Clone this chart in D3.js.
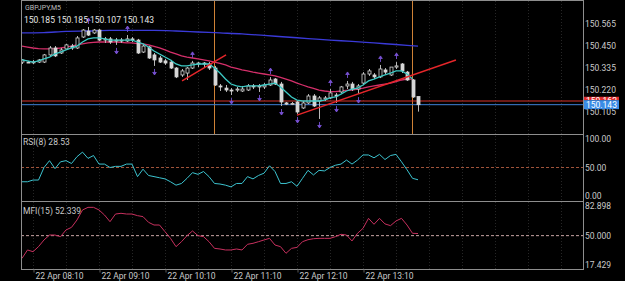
<!DOCTYPE html>
<html>
<head>
<meta charset="utf-8">
<script src="https://cdn.jsdelivr.net/npm/d3@7"></script>
<style>
body { margin: 0; background: #000; }
svg { display: block; }
</style>
</head>
<body>
<div id="canvas"></div>
<script>
// dimensions
const width = 625;
const height = 281;
const left = 21;
const right = 583;
const mainBottom = 134;
const rsiBottom = 201;
const mfiBottom = 269;

// ---- data (GBPJPY M5, bars from 22 Apr 08:00) ----
const symbol = "GBPJPY,M5";
const lastOHLC = "150.185 150.185 150.107 150.143";

const open = [150.364,150.364,150.362,150.364,150.364,150.401,150.437,150.411,150.432,150.447,
  150.437,150.494,150.525,150.515,150.530,150.478,150.484,150.473,150.478,150.473,
  150.484,150.478,150.416,150.442,150.401,150.385,150.370,150.364,150.333,150.297,
  150.307,150.333,150.354,150.359,150.354,150.333,150.240,150.229,150.219,150.219,
  150.214,150.219,150.240,150.235,150.235,150.245,150.276,150.250,150.152,150.146,
  150.157,150.126,150.152,150.188,150.162,150.172,150.178,150.193,150.209,150.240,
  150.250,150.224,150.255,150.302,150.297,150.287,150.323,150.297,150.338,150.354,
  150.312,150.271,150.185];
const high = [150.380,150.370,150.375,150.380,150.406,150.447,150.447,150.437,150.458,150.458,
  150.499,150.535,150.546,150.535,150.535,150.494,150.494,150.489,150.489,150.504,
  150.494,150.484,150.458,150.447,150.411,150.396,150.380,150.375,150.338,150.328,
  150.338,150.370,150.364,150.364,150.364,150.344,150.250,150.245,150.229,150.235,
  150.240,150.250,150.250,150.250,150.255,150.286,150.281,150.261,150.157,150.157,
  150.162,150.162,150.198,150.198,150.188,150.188,150.224,150.204,150.240,150.266,
  150.261,150.250,150.312,150.328,150.307,150.349,150.333,150.338,150.364,150.359,
  150.318,150.276,150.185];
const low = [150.354,150.359,150.354,150.359,150.359,150.396,150.390,150.406,150.427,150.427,
  150.432,150.489,150.499,150.510,150.473,150.463,150.458,150.453,150.463,150.468,
  150.468,150.406,150.411,150.380,150.344,150.359,150.349,150.328,150.281,150.287,
  150.271,150.328,150.338,150.338,150.323,150.240,150.214,150.209,150.193,150.209,
  150.209,150.214,150.224,150.209,150.224,150.240,150.245,150.136,150.141,150.141,
  150.095,150.121,150.146,150.131,150.069,150.162,150.172,150.152,150.204,150.224,
  150.214,150.198,150.250,150.292,150.276,150.281,150.302,150.292,150.328,150.307,
  150.266,150.178,150.107];
const close = [150.375,150.362,150.365,150.375,150.401,150.437,150.396,150.427,150.453,150.437,
  150.489,150.530,150.504,150.530,150.478,150.484,150.468,150.478,150.473,150.484,
  150.478,150.411,150.447,150.385,150.375,150.364,150.359,150.333,150.287,150.318,
  150.333,150.359,150.359,150.354,150.333,150.245,150.235,150.219,150.214,150.224,
  150.224,150.240,150.235,150.240,150.245,150.271,150.250,150.157,150.146,150.149,
  150.105,150.152,150.188,150.136,150.178,150.178,150.204,150.188,150.235,150.250,
  150.224,150.240,150.302,150.318,150.287,150.328,150.312,150.338,150.344,150.318,
  150.271,150.183,150.143];

// moving averages
const fastMa = [150.375,150.370,150.364,150.370,150.380,150.390,150.406,150.416,150.427,150.437,
  150.447,150.468,150.484,150.489,150.489,150.484,150.478,150.478,150.478,150.478,
  150.478,150.468,150.458,150.442,150.421,150.406,150.390,150.375,150.354,150.344,
  150.344,150.349,150.354,150.354,150.354,150.333,150.307,150.276,150.250,150.240,
  150.235,150.240,150.240,150.240,150.245,150.250,150.255,150.235,150.209,150.183,
  150.167,150.162,150.162,150.162,150.162,150.167,150.178,150.183,150.198,150.214,
  150.224,150.229,150.245,150.266,150.276,150.287,150.297,150.307,150.318,150.318,
  150.302,150.276];
const midMa = [150.447,150.442,150.437,150.434,150.432,150.432,150.434,150.437,150.442,150.447,
  150.453,150.458,150.463,150.466,150.468,150.468,150.468,150.468,150.466,150.463,
  150.463,150.460,150.458,150.453,150.445,150.437,150.427,150.416,150.406,150.396,
  150.390,150.385,150.380,150.375,150.370,150.364,150.357,150.349,150.338,150.331,
  150.323,150.318,150.312,150.307,150.302,150.297,150.292,150.284,150.276,150.266,
  150.255,150.245,150.235,150.227,150.219,150.214,150.211,150.211,150.214,150.217,
  150.219,150.224,150.229,150.235,150.240,150.245,150.250,150.255,150.263,150.271,
  150.276,150.276];
const slowMaBars = [0, 4, 8, 12, 16, 20, 24, 28, 32, 36, 40, 44, 48, 52, 56, 60, 64, 68, 72];
const slowMa = [150.515,150.517,150.523,150.525,150.528,150.528,150.528,150.525,150.520,150.515,
  150.510,150.502,150.494,150.486,150.478,150.471,150.463,150.455,150.447];

// fractal arrows (bar index)
const fractalUp = [12, 19, 31, 45, 56, 59, 65, 68];
const fractalDown = [17, 24, 38, 43, 47, 50, 54, 57, 61];

// drawn objects: trend lines [bar, price], vertical lines (bar)
const trendLines = [
  [[29.1, 150.266], [37.1, 150.401]],
  [[50.0, 150.089], [78.9, 150.375]]
];
const vLines = [35, 71];
const askPrice = 150.162;
const bidPrice = 150.143;

// indicators
const rsi = [25,25,28,28,50,62,48,60,62,57,
  69,77,66,71,56,56,50,52,52,56,
  56,34,47,36,34,32,30,25,19,22,
  31,41,38,43,34,22,21,19,16,22,
  22,34,30,36,40,53,43,22,22,25,
  17,31,45,37,45,44,50,54,56,63,
  56,63,72,72,67,73,64,71,73,60,
  46,31,28.53];
const mfi = [24.8,34.1,32.2,37.8,45.2,50.7,50.7,48.9,56.3,59.2,
  67.4,78.5,81.4,81.4,78.5,72.9,65.5,74.0,74.8,74.0,
  74.0,72.2,71.1,64.8,61.8,61.8,54.4,47.0,37.8,43.3,
  50.0,55.2,50.0,48.9,43.3,35.9,35.2,34.1,34.1,35.2,
  34.1,40.4,41.5,43.3,45.2,47.0,39.6,37.8,30.4,35.9,
  37.0,43.3,45.5,46.6,47.0,47.0,47.0,48.9,51.5,50.7,
  44.1,52.6,58.1,69.2,62.6,69.2,63.0,61.1,66.3,69.2,
  61.8,52.6,52.339];

// axis ticks
const priceTicks = [150.565, 150.450, 150.335, 150.220, 150.105];
const rsiTicks = [100, 50, 0];
const mfiTicks = [82.898, 50, 17.429];
const timeTicks = [2, 14, 26, 38, 50, 62];
const timeLabels = ["22 Apr 08:10", "22 Apr 09:10", "22 Apr 10:10", "22 Apr 11:10", "22 Apr 12:10", "22 Apr 13:10"];
const gridBars = [2, 8, 14, 20, 26, 32, 38, 44, 50, 56, 62, 68, 74, 80, 86, 92, 98];

// ---- drawing ----
const font = "Roboto, 'Noto Sans', sans-serif";
const textColor = "#c9c9c9";
const frameColor = "#8e8e8e";
const fractalColor = "#7650d0";

var svg = d3.select("#canvas").append("svg")
    .attr("width", width)
    .attr("height", height)
    .style("font-family", font);

svg.append("rect").attr("width", width).attr("height", height).attr("fill", "#000");

// scales
var x = d3.scaleLinear().domain([0, 102]).range([22, 583]);
var y = d3.scaleLinear().domain([150.105, 150.565]).range([112, 23.3]);
var yRsi = d3.scaleLinear().domain([0, 100]).range([196, 139]);
var yMfi = d3.scaleLinear().domain([17.429, 82.898]).range([265, 206]);

// grid
svg.append("g").selectAll("line")
    .data(gridBars)
    .join("line")
    .attr("x1", d => Math.round(x(d)) + 0.5)
    .attr("x2", d => Math.round(x(d)) + 0.5)
    .attr("y1", 1)
    .attr("y2", mfiBottom)
    .attr("stroke", "#262626")
    .attr("stroke-dasharray", "1,2");

// price area clip
svg.append("clipPath").attr("id", "mainClip")
    .append("rect").attr("x", left).attr("y", 1).attr("width", right - left).attr("height", mainBottom - 1);
var main = svg.append("g").attr("clip-path", "url(#mainClip)");

// vertical line objects
main.selectAll(".vline")
    .data(vLines)
    .join("line")
    .attr("class", "vline")
    .attr("x1", d => Math.round(x(d)) - 0.5)
    .attr("x2", d => Math.round(x(d)) - 0.5)
    .attr("y1", 0)
    .attr("y2", mainBottom)
    .attr("stroke", "#cf8236")
    .attr("stroke-width", 1);

// ask / bid lines
main.append("line")
    .attr("x1", left).attr("x2", right)
    .attr("y1", y(askPrice)).attr("y2", y(askPrice))
    .attr("stroke", "#d5322c");
main.append("line")
    .attr("x1", left).attr("x2", right)
    .attr("y1", y(bidPrice)).attr("y2", y(bidPrice))
    .attr("stroke", "#3d7fd6");

// moving averages
var maLine = d3.line()
    .x((d, i) => x(i))
    .y(d => y(d));
main.append("path")
    .attr("d", d3.line().x((d, i) => x(slowMaBars[i])).y(d => y(d)).curve(d3.curveMonotoneX)(slowMa))
    .attr("fill", "none").attr("stroke", "#3a3ad8").attr("stroke-width", 1.3);
main.append("path")
    .attr("d", maLine(midMa))
    .attr("fill", "none").attr("stroke", "#d42f6a").attr("stroke-width", 1.3);

// candles
var bars = d3.range(open.length);
var candles = main.append("g").selectAll("g")
    .data(bars)
    .join("g");
candles.append("line")
    .attr("x1", i => Math.round(x(i)) + 0.5)
    .attr("x2", i => Math.round(x(i)) + 0.5)
    .attr("y1", i => y(high[i]))
    .attr("y2", i => y(low[i]))
    .attr("stroke", "#b8b8b8");
candles.append("rect")
    .attr("x", i => Math.round(x(i)) - 1)
    .attr("width", 3)
    .attr("y", i => y(Math.max(open[i], close[i])))
    .attr("height", i => Math.max(1, Math.abs(y(open[i]) - y(close[i]))))
    .attr("fill", i => close[i] >= open[i] ? "#000" : "#d6d6d6")
    .attr("stroke", "#d6d6d6")
    .attr("stroke-width", 0.8);

main.append("path")
    .attr("d", maLine(fastMa))
    .attr("fill", "none").attr("stroke", "#3cc9c4").attr("stroke-width", 1.3);

// trend lines
main.selectAll(".trend")
    .data(trendLines)
    .join("line")
    .attr("class", "trend")
    .attr("x1", d => x(d[0][0])).attr("y1", d => y(d[0][1]))
    .attr("x2", d => x(d[1][0])).attr("y2", d => y(d[1][1]))
    .attr("stroke", "#e5262a")
    .attr("stroke-width", 1.5);

// fractals: small arrows above highs / below lows
function arrow(cx, tip, dir) {
    const tail = tip - dir * 6;
    return `M${cx},${tail}L${cx},${tip}M${cx - 1.8},${tip - dir * 2.5}L${cx},${tip}L${cx + 1.8},${tip - dir * 2.5}Z`;
}
main.selectAll(".fup")
    .data(fractalUp)
    .join("path")
    .attr("class", "fup")
    .attr("d", i => arrow(Math.round(x(i)) + 0.5, y(high[i]) - 9, -1))
    .attr("fill", fractalColor).attr("stroke", fractalColor).attr("stroke-width", 0.9);
main.selectAll(".fdown")
    .data(fractalDown)
    .join("path")
    .attr("class", "fdown")
    .attr("d", i => arrow(Math.round(x(i)) + 0.5, y(low[i]) + 9, 1))
    .attr("fill", fractalColor).attr("stroke", fractalColor).attr("stroke-width", 0.9);

// RSI panel
svg.append("line")
    .attr("x1", left).attr("x2", right)
    .attr("y1", yRsi(50)).attr("y2", yRsi(50))
    .attr("stroke", "#a0533a").attr("stroke-dasharray", "3,2");
svg.append("path")
    .attr("d", d3.line().x((d, i) => x(i)).y(d => yRsi(d))(rsi))
    .attr("fill", "none").attr("stroke", "#3cc3cf").attr("stroke-width", 1);

// MFI panel
svg.append("line")
    .attr("x1", left).attr("x2", right)
    .attr("y1", yMfi(50)).attr("y2", yMfi(50))
    .attr("stroke", "#c8a4a4").attr("stroke-dasharray", "3,2");
svg.append("path")
    .attr("d", d3.line().x((d, i) => x(i)).y(d => yMfi(d))(mfi))
    .attr("fill", "none").attr("stroke", "#c7305e").attr("stroke-width", 1);

// frame
var frame = svg.append("g").attr("stroke", frameColor).attr("stroke-width", 1);
[0.5, mainBottom + 0.5, rsiBottom + 0.5, mfiBottom + 0.5].forEach(function(v) {
    frame.append("line").attr("x1", left).attr("x2", right + 1).attr("y1", v).attr("y2", v);
});
frame.append("line").attr("x1", left + 0.5).attr("x2", left + 0.5).attr("y1", 0).attr("y2", mfiBottom + 1);
frame.append("line").attr("x1", right + 0.5).attr("x2", right + 0.5).attr("y1", 0).attr("y2", mfiBottom + 1);

// right axes
function styleAxis(g) {
    g.select(".domain").remove();
    g.selectAll("text")
        .attr("fill", textColor)
        .attr("font-size", "8.5px")
        .attr("font-family", font);
}
svg.append("g")
    .attr("transform", `translate(${right}, 0)`)
    .call(d3.axisRight(y).tickValues(priceTicks).tickFormat(d3.format(".3f")).tickSize(0).tickPadding(2))
    .call(styleAxis);
svg.append("g")
    .attr("transform", `translate(${right}, 0)`)
    .call(d3.axisRight(yRsi).tickValues(rsiTicks).tickFormat(d3.format(".2f")).tickSize(0).tickPadding(2))
    .call(styleAxis);
svg.append("g")
    .attr("transform", `translate(${right}, 0)`)
    .call(d3.axisRight(yMfi).tickValues(mfiTicks).tickFormat(d3.format(".3f")).tickSize(0).tickPadding(2))
    .call(styleAxis);

// ask / bid price labels: the bid box sits over the lower part of the ask box
var askTop = y(askPrice) - 4.5;
var bidTop = y(bidPrice) - 4.5;
svg.append("clipPath").attr("id", "askClip")
    .append("rect").attr("x", right).attr("y", askTop).attr("width", 40).attr("height", bidTop - askTop);
var askLabel = svg.append("g").attr("clip-path", "url(#askClip)");
askLabel.append("rect")
    .attr("x", right + 1).attr("y", askTop)
    .attr("width", 35).attr("height", 9)
    .attr("fill", "#df2b2b");
askLabel.append("text")
    .attr("x", right + 3).attr("y", y(askPrice))
    .attr("dy", "0.34em")
    .attr("font-size", "8.5px")
    .attr("fill", "#fff")
    .text(d3.format(".3f")(askPrice));
svg.append("rect")
    .attr("x", right + 1).attr("y", bidTop)
    .attr("width", 35).attr("height", 9)
    .attr("fill", "#3a8ce6");
svg.append("text")
    .attr("x", right + 3).attr("y", y(bidPrice))
    .attr("dy", "0.34em")
    .attr("font-size", "8.5px")
    .attr("fill", "#fff")
    .text(d3.format(".3f")(bidPrice));

// time axis
svg.append("g")
    .attr("transform", `translate(0, ${mfiBottom + 0.5})`)
    .call(d3.axisBottom(x).tickValues(timeTicks).tickFormat((d, i) => timeLabels[i]).tickSize(3).tickPadding(0))
    .call(function(g) {
        g.select(".domain").remove();
        g.selectAll("line").attr("stroke", "#5a5a5a").attr("transform", "translate(0.5,0)");
        g.selectAll("text")
            .attr("text-anchor", "start")
            .attr("dx", 2)
            .attr("fill", textColor)
            .attr("font-size", "8.5px")
            .attr("font-family", font);
    });

// titles
svg.append("text").attr("x", 25).attr("y", 10)
    .attr("font-size", "7px").attr("fill", "#bdbdbd").text(symbol);
svg.append("text").attr("x", 24).attr("y", 23)
    .attr("font-size", "8.5px").attr("fill", "#e6e6e6").text(lastOHLC);
svg.append("text").attr("x", 23).attr("y", 144.5)
    .attr("font-size", "8.5px").attr("fill", textColor).text("RSI(8) " + d3.format(".2f")(rsi[rsi.length - 1]));
svg.append("text").attr("x", 23).attr("y", 213.5)
    .attr("font-size", "8.5px").attr("fill", textColor).text("MFI(15) " + d3.format(".3f")(mfi[mfi.length - 1]));
</script>
</body>
</html>
